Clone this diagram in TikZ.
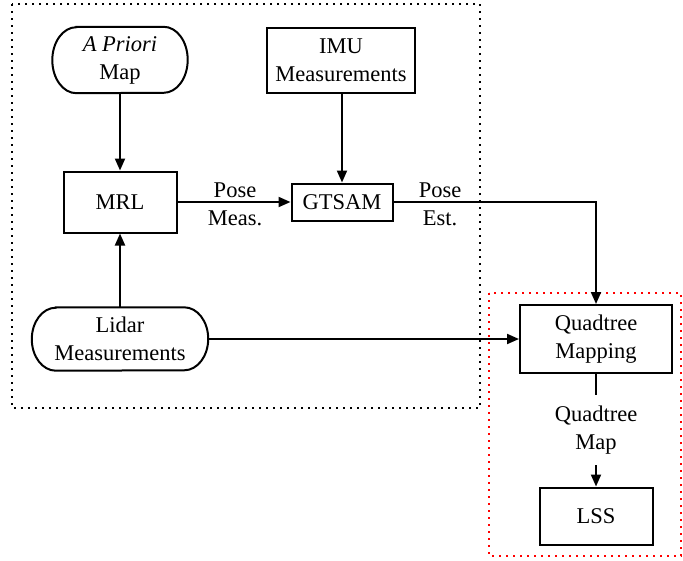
\documentclass[tikz,border=0pt]{standalone}
\usepackage{fontspec}
\setmainfont{Liberation Serif}
\usetikzlibrary{arrows.meta}
\begin{document}
\begin{tikzpicture}[x=1pt,y=-1pt,
  every node/.style={font=\fontsize{22.5}{28}\selectfont, align=center, inner sep=0pt},
  box/.style={draw, line width=2pt, rectangle},
  pill/.style={rectangle},
  outline/.style={line width=2pt},
  conn/.style={line width=2pt, -{Triangle[length=12pt,width=10pt]}},
  plain/.style={line width=2pt},
  group/.style={line width=2pt, dash pattern=on 2pt off 5pt}
]
\useasboundingbox (0,0) rectangle (683,560);
% groups
\draw[group] (12,4) rectangle (480,408);
\draw[group, red] (489,293) rectangle (681,556);
% nodes
\node[pill, minimum width=135pt, minimum height=66pt] (apm) at (120,60) {\textit{A Priori}\\Map};
\node[box, minimum width=148pt, minimum height=65pt] (imu) at (341,60) {IMU\\Measurements};
\node[box, minimum width=113pt, minimum height=61pt] (mrl) at (120,202) {MRL};
\node[box, minimum width=101pt, minimum height=37pt] (gts) at (342,202) {GTSAM};
\node[pill, minimum width=176pt, minimum height=63pt] (lid) at (120,339) {Lidar\\Measurements};
\node[box, minimum width=152pt, minimum height=68pt] (qtm) at (596,339) {Quadtree\\Mapping};
\node[box, minimum width=113pt, minimum height=57pt] (lss) at (596,516) {LSS};
% pill outlines (elliptical ends)
\draw[outline] ([xshift=24pt]apm.north west) -- ([xshift=-24pt]apm.north east)
  arc[start angle=90, end angle=-90, x radius=24pt, y radius=33pt]
  -- ([xshift=24pt]apm.south west)
  arc[start angle=270, end angle=90, x radius=24pt, y radius=33pt] -- cycle;
\draw[outline] ([xshift=24pt]lid.north west) -- ([xshift=-24pt]lid.north east)
  arc[start angle=90, end angle=-90, x radius=24pt, y radius=31.5pt]
  -- ([xshift=24pt]lid.south west)
  arc[start angle=270, end angle=90, x radius=24pt, y radius=31.5pt] -- cycle;
% labels
\node (lpm) at (235,204) {Pose\\Meas.};
\node (lpe) at (440,204) {Pose\\Est.};
\node[minimum height=70pt] (lqm) at (596,430) {Quadtree\\Map};
% connectors
\draw[conn] (apm) -- (mrl);
\draw[conn] (imu.south -| gts.north) -- (gts.north);
\draw[conn] (lid) -- (mrl);
\draw[conn] (mrl) -- (gts);
\draw[conn] (gts) -| (qtm);
\draw[conn] (lid) -- (qtm);
\draw[plain] (qtm) -- (lqm);
\draw[conn] (lqm) -- (lss);
\end{tikzpicture}
\end{document}
